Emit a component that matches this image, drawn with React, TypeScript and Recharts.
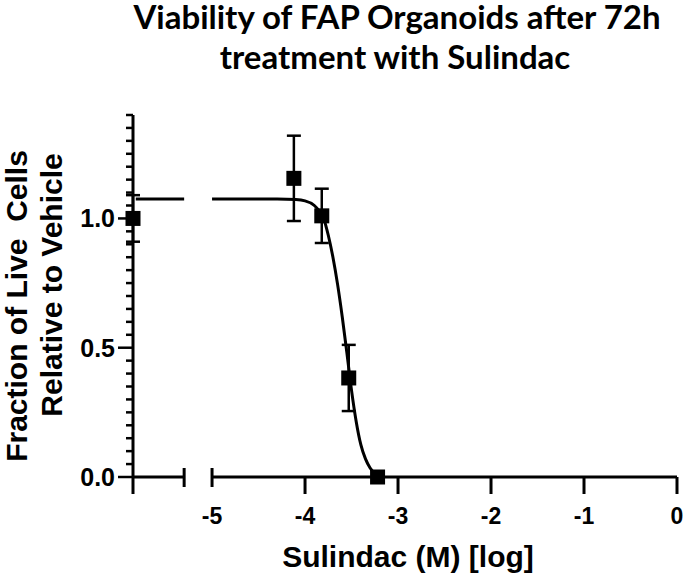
import React from 'react';
import { ComposedChart, XAxis, YAxis, Scatter, Line, ErrorBar, ReferenceLine } from 'recharts';

const ARIAL = '"Liberation Sans", Arial, sans-serif';
const TITLE_FONT = 'Lato, "Open Sans", sans-serif';

// Treated wells: log10 dose (M), fraction of live cells, SD
const doseLog = [-4.12, -3.82, -3.53, -3.22];
const viability = [1.155, 1.01, 0.383, 0.0];
const viabilitySD = [0.165, 0.105, 0.128, 0.0];

// Vehicle control (plotted on the left segment of the broken axis)
const vehicleX = [-5.85];
const vehicleY = [1.0];
const vehicleSD = [0.09];

// Fitted dose-response curve
const curveX = [-5.0, -4.6, -4.3, -4.1, -4.0, -3.9, -3.85, -3.8, -3.75, -3.7, -3.65, -3.6, -3.55, -3.5, -3.45, -3.4, -3.35, -3.3, -3.25, -3.22];
const curveY = [1.075, 1.075, 1.075, 1.073, 1.068, 1.05, 1.03, 1.0, 0.935, 0.85, 0.745, 0.62, 0.48, 0.335, 0.215, 0.125, 0.07, 0.035, 0.015, 0.008];

// Curve plateau drawn over the vehicle segment
const plateauX = [-5.82, -5.3];
const plateauY = [1.075, 1.075];

// Axes
const xDomain = [-5.85, 0];
const axisBreak = [-5.3, -5];
const xTicks = [-5.85, -5.3, -5, -4, -3, -2, -1, 0];
const xTickLabels = ['', '', '-5', '-4', '-3', '-2', '-1', '0'];
const yDomain = [0, 1.4];
const yTicks = [0, 0.05, 0.1, 0.15, 0.2, 0.25, 0.3, 0.35, 0.4, 0.45, 0.5, 0.55, 0.6, 0.65, 0.7, 0.75, 0.8, 0.85, 0.9, 0.95, 1.0, 1.05, 1.1, 1.15, 1.2, 1.25, 1.3, 1.35, 1.4];
const yMajorTicks = [0, 0.5, 1.0];
const yMajorLabels = ['0.0', '0.5', '1.0'];

const title = ['Viability of FAP Organoids after 72h', 'treatment with Sulindac'];
const xTitle = 'Sulindac (M) [log]';
const yTitle = ['Fraction of Live  Cells', 'Relative to Vehicle'];

const treated = doseLog.map((x, i) => ({ x, y: viability[i], err: viabilitySD[i] }));
const vehicle = vehicleX.map((x, i) => ({ x, y: vehicleY[i], err: vehicleSD[i] }));
const curve = curveX.map((x, i) => ({ x, y: curveY[i] }));
const plateau = plateauX.map((x, i) => ({ x, y: plateauY[i] }));

const near = (a: number, b: number) => Math.abs(a - b) < 1e-6;

const xTickTextStyle: React.CSSProperties = {
  fontFamily: ARIAL,
  fontWeight: 700,
  fontSize: '23px',
  fill: '#000',
};
const yTickTextStyle: React.CSSProperties = {
  fontFamily: ARIAL,
  fontWeight: 700,
  fontSize: '25px',
  fill: '#000',
};

const Square = (props: any) => {
  const { cx, cy } = props;
  if (cx == null || cy == null) return null;
  const s = 15;
  return <rect x={cx - s / 2} y={cy - s / 2} width={s} height={s} fill="#000" />;
};

const XTick = (props: any) => {
  const { x, y, payload } = props;
  const v = payload.value;
  const idx = xTicks.findIndex((t) => near(t, v));
  const label = idx >= 0 ? xTickLabels[idx] : '';
  const isCap = axisBreak.some((b) => near(b, v));
  return (
    <g>
      {isCap ? (
        <line x1={x} x2={x} y1={y - 9} y2={y + 10} stroke="#000" strokeWidth={3} />
      ) : (
        <line x1={x} x2={x} y1={y} y2={y + 17} stroke="#000" strokeWidth={3} />
      )}
      {label ? (
        <text x={x} y={y + 47} textAnchor="middle" style={xTickTextStyle}>
          {label}
        </text>
      ) : null}
    </g>
  );
};

const YTick = (props: any) => {
  const { x, y, payload } = props;
  const v = payload.value;
  const mi = yMajorTicks.findIndex((t) => near(t, v));
  const major = mi >= 0;
  return (
    <g>
      <line x1={x - (major ? 15 : 7)} x2={x} y1={y} y2={y} stroke="#000" strokeWidth={2.5} />
      {major ? (
        <text x={x - 18} y={y + 9} textAnchor="end" style={yTickTextStyle}>
          {yMajorLabels[mi]}
        </text>
      ) : null}
    </g>
  );
};

export default function App() {
  return (
    <div style={{ position: 'absolute', left: 0, top: 0, width: 685, height: 576, background: '#fff' }}>
      <ComposedChart width={685} height={576} margin={{ top: 115, right: 8, bottom: 0, left: 0 }}>
        <XAxis
          type="number"
          dataKey="x"
          domain={xDomain}
          ticks={xTicks}
          interval={0}
          axisLine={false}
          tickLine={false}
          tickSize={0}
          tickMargin={0}
          height={99}
          tick={<XTick />}
        />
        <YAxis
          type="number"
          domain={yDomain}
          ticks={yTicks}
          interval={0}
          width={133}
          axisLine={{ stroke: '#000', strokeWidth: 3 }}
          tickLine={false}
          tickSize={0}
          tickMargin={0}
          tick={<YTick />}
        />
        <ReferenceLine segment={[{ x: xDomain[0], y: 0 }, { x: axisBreak[0], y: 0 }]} stroke="#000" strokeWidth={3} />
        <ReferenceLine segment={[{ x: axisBreak[1], y: 0 }, { x: xDomain[1], y: 0 }]} stroke="#000" strokeWidth={3} />
        <Line data={plateau} dataKey="y" type="linear" stroke="#000" strokeWidth={3} dot={false} isAnimationActive={false} />
        <Line data={curve} dataKey="y" type="monotone" stroke="#000" strokeWidth={3} dot={false} isAnimationActive={false} />
        <Scatter data={vehicle} dataKey="y" shape={<Square />} isAnimationActive={false}>
          <ErrorBar dataKey="err" direction="y" width={7} stroke="#000" strokeWidth={2.5} />
        </Scatter>
        <Scatter data={treated} dataKey="y" shape={<Square />} isAnimationActive={false}>
          <ErrorBar dataKey="err" direction="y" width={7} stroke="#000" strokeWidth={2.5} />
        </Scatter>
      </ComposedChart>
      <svg width={685} height={576} style={{ position: 'absolute', left: 0, top: 0, pointerEvents: 'none' }}>
        <text x={397} y={29} textAnchor="middle" fontFamily={TITLE_FONT} fontWeight="bold" fontSize={33} fill="#000">
          {title[0]}
        </text>
        <text x={395} y={69} textAnchor="middle" fontFamily={TITLE_FONT} fontWeight="bold" fontSize={33} fill="#000">
          {title[1]}
        </text>
        <text x={408} y={567} textAnchor="middle" fontFamily={ARIAL} fontWeight="bold" fontSize={30} fill="#000">
          {xTitle}
        </text>
        <text x={27} y={306} transform="rotate(-90, 27, 306)" textAnchor="middle" fontFamily={ARIAL} fontWeight="bold" fontSize={30} fill="#000" style={{ whiteSpace: 'pre' }}>
          {yTitle[0]}
        </text>
        <text x={62} y={285} transform="rotate(-90, 62, 285)" textAnchor="middle" fontFamily={ARIAL} fontWeight="bold" fontSize={30} fill="#000">
          {yTitle[1]}
        </text>
      </svg>
    </div>
  );
}
